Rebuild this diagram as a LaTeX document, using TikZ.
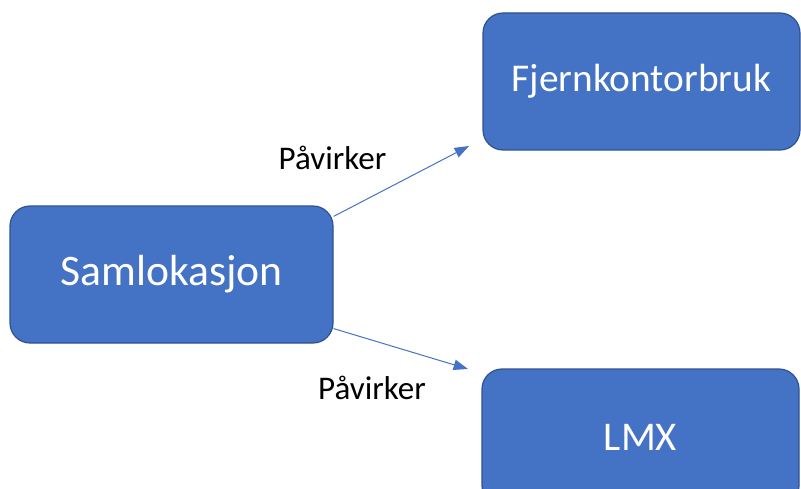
\documentclass[tikz,border=0pt]{standalone}
\usepackage{fontspec}
\setmainfont{Carlito}
\usetikzlibrary{shapes,arrows.meta}
\definecolor{boxblue}{HTML}{4472C4}
\definecolor{boxedge}{HTML}{2F528F}

\begin{document}
\begin{tikzpicture}
		\tikzstyle {topic box} = [draw=boxedge, line width=0.03cm, fill=boxblue, rounded corners=0.5cm, text=white, font=\fontsize{29}{34}\selectfont, minimum height=3.425cm]
		\tikzstyle {effect line} = [draw=boxblue, line width=0.025cm, -{Triangle[length=0.36cm,width=0.26cm]}]
		\tikzstyle {effect label} = [font=\fontsize{23.5}{28}\selectfont]

		\useasboundingbox (0,0) rectangle (20.025,12.2);

		\node[topic box, minimum width=8.075cm, font=\fontsize{31}{36}\selectfont] (saml) at (4.2875, 5.3375) {Samlokasjon};
		\node[topic box, minimum width=7.925cm, font=\fontsize{28}{33}\selectfont] (fjern) at (16.0375, 10.1625) {Fjernkontorbruk};
		\node[topic box, minimum width=7.925cm] (lmx) at (16.0125, 1.2625) {LMX};

		\coordinate (tipTop) at (11.725, 8.55);
		\coordinate (tipBottom) at (11.7, 2.975);

		\draw[effect line] ([yshift=-0.275cm]saml.north east) -- (tipTop);
		\draw[effect line] ([yshift=0.375cm]saml.south east) -- (tipBottom);

		\node[effect label] (lblTop) at (8.3125, 8.25) {Påvirker};
		\node[effect label] (lblBottom) at (9.3, 2.5) {Påvirker};

	\end{tikzpicture}
\end{document}
